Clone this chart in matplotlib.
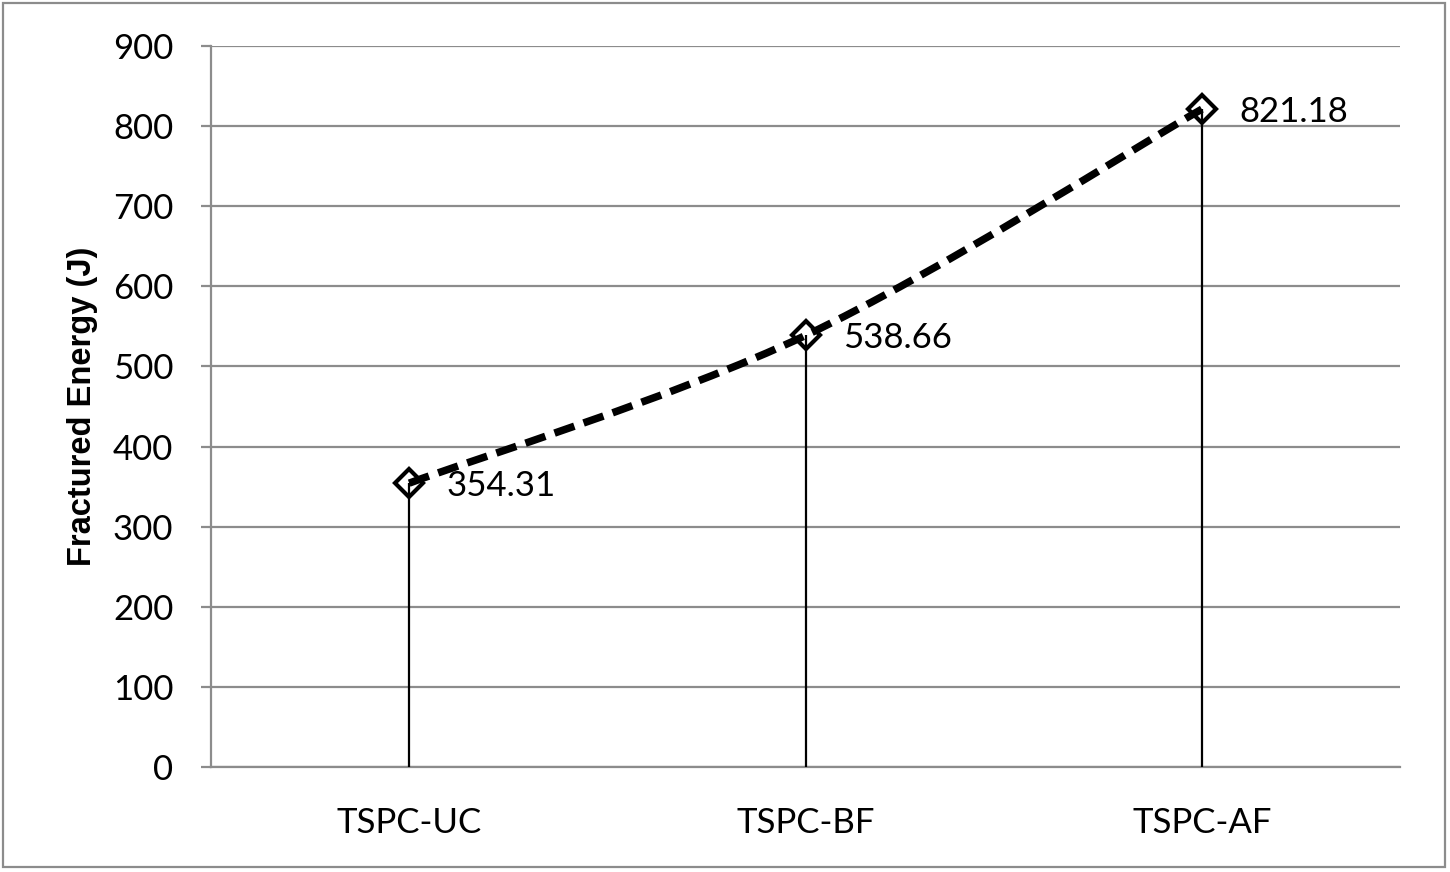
import numpy as np
import matplotlib
matplotlib.use("Agg")
import matplotlib.pyplot as plt
from matplotlib.path import Path
from matplotlib.patches import PathPatch, Rectangle

# data
categories = ["TSPC-UC", "TSPC-BF", "TSPC-AF"]
energy = [354.31, 538.66, 821.18]
y_ticks = [0, 100, 200, 300, 400, 500, 600, 700, 800, 900]

plt.rcParams['font.family'] = ['Lato', 'DejaVu Sans']

fig = plt.figure(figsize=(14.5, 8.72), dpi=100)
ax = fig.add_axes([211 / 1450, 105 / 872, 1189 / 1450, 721 / 872])

x = np.arange(len(categories))
y = np.array(energy)

# grid + axes styling (Excel look)
grid_col = '#8c8c8c'
ax.set_xlim(-0.5, len(categories) - 0.5)
ax.set_ylim(0, 900)
ax.set_yticks(y_ticks)
ax.yaxis.grid(True, color=grid_col, lw=1.6)
ax.set_axisbelow(True)
for side in ['top', 'right']:
    ax.spines[side].set_visible(False)
ax.spines['left'].set_color(grid_col)
ax.spines['left'].set_linewidth(1.6)
ax.spines['bottom'].set_color(grid_col)
ax.spines['bottom'].set_linewidth(1.6)
ax.tick_params(axis='y', length=7, width=1.6, color=grid_col, pad=20, labelsize=25)
ax.tick_params(axis='x', length=0, pad=29, labelsize=25)
ax.set_xticks(x)
ax.set_xticklabels(categories)
ax.set_ylabel('Fractured Energy (J)', fontsize=23.5, fontweight='bold',
              family=['Liberation Sans', 'DejaVu Sans'], labelpad=11)

# drop lines from each point to the axis
ax.vlines(x, 0, y, color='black', lw=1.6, zorder=3)

# smoothed line like Excel: cubic bezier segments (Catmull-Rom style control points)
pts = np.column_stack([x, y]).astype(float)
ext = np.vstack([pts[0], pts, pts[-1]])
verts = [tuple(pts[0])]
codes = [Path.MOVETO]
for i in range(len(pts) - 1):
    p0, p1, p2, p3 = ext[i], ext[i + 1], ext[i + 2], ext[i + 3]
    c1 = p1 + (p2 - p0) / 6.0
    c2 = p2 - (p3 - p1) / 6.0
    verts += [tuple(c1), tuple(c2), tuple(p2)]
    codes += [Path.CURVE4, Path.CURVE4, Path.CURVE4]
curve = PathPatch(Path(verts, codes), facecolor='none', edgecolor='black',
                  lw=5.4, linestyle=(0, (2.8, 1.3)), zorder=4)
ax.add_patch(curve)

ax.plot(x, y, linestyle='none', marker='D', markersize=14, markerfacecolor='none',
        markeredgecolor='black', markeredgewidth=3.0, zorder=5)

for xi, yi in zip(x, y):
    ax.annotate(f'{yi:.2f}', (xi, yi), xytext=(27, -2), textcoords='offset points',
                ha='left', va='center', fontsize=25, color='black', zorder=6)

# outer chart border
fig.patches.append(Rectangle((3 / 1450, 5 / 872), 1442 / 1450, 864 / 872,
                             transform=fig.transFigure, fill=False,
                             edgecolor='#8c8c8c', lw=1.6))

fig.savefig('out.png', dpi=100)
